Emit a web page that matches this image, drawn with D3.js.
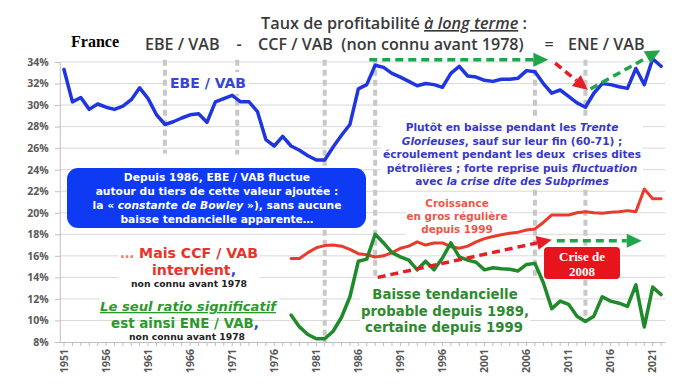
<!DOCTYPE html>
<html>
<head>
<meta charset="utf-8">
<style>
  body { margin: 0; background: #fff; font-family: "Open Sans", sans-serif; }
  svg { display: block; }
  text { white-space: pre; }
  .grid line { stroke: #d9d9d9; stroke-width: 1; }
  .axis text { fill: #595959; font-size: 10.5px; font-weight: 700; font-family: "Open Sans"; }
  .axis path, .axis line { stroke: #bfbfbf; }
  .mark { stroke: #c8c8c8; stroke-width: 4; stroke-dasharray: 6,4; }
  .serie { fill: none; stroke-linejoin: round; stroke-linecap: round; }
  .note text { font-weight: 700; font-family: "DejaVu Sans"; }
</style>
</head>
<body>
<script src="https://d3js.org/d3.v7.min.js"></script>
<script>

var years = d3.range(1951, 2023),
    partYears = d3.range(1978, 2023);

// EBE / VAB, 1951-2022
var ebeVab = [33.3, 30.3, 30.7, 29.6, 30.1, 29.8, 29.6, 29.9, 30.5, 31.6,
              30.6, 29.1, 28.2, 28.45, 28.8, 29.1, 29.2, 28.4, 30.3, 30.6,
              30.9, 30.3, 30.3, 29.4, 26.8, 26.2, 27.1, 26.2, 25.8, 25.3,
              24.9, 24.9, 26.1, 27.2, 28.2, 31.5, 31.9, 33.7, 33.5, 32.95,
              32.6, 32.2, 31.8, 32.0, 31.9, 31.65, 32.95, 33.6, 32.7, 32.6,
              32.3, 32.2, 32.4, 32.4, 32.5, 33.2, 33.1, 32.0, 31.1, 31.4,
              30.8, 30.2, 29.8, 31.1, 32.0, 31.9, 31.7, 31.55, 33.4, 31.9,
              34.3, 33.6];

// CCF / VAB, 1978-2022
var ccfVab = [15.75, 15.75, 16.3,
              16.75, 16.95, 17.0, 16.9, 16.6, 16.2, 16.1, 15.9, 16.0, 16.3,
              16.7, 16.9, 17.3, 17.0, 17.2, 17.2, 16.85, 16.7, 16.9, 17.3,
              17.6, 17.8, 17.95, 18.1, 18.2, 18.4, 18.5, 19.1, 19.8, 19.8,
              19.8, 20.0, 20.1, 20.0, 19.95, 20.05, 20.1, 20.2, 20.1, 22.2,
              21.3, 21.3];

// ENE / VAB, 1978-2022
var eneVab = [10.5, 9.4, 8.7,
              8.3, 8.3, 9.0, 10.3, 12.2, 15.5, 15.7, 18.0, 17.2, 16.3,
              15.9, 15.6, 14.7, 15.5, 14.7, 15.8, 17.2, 15.9, 15.6, 15.4,
              14.7, 14.9, 14.8, 14.75, 14.6, 15.2, 15.3, 13.5, 11.1, 11.8,
              11.5, 10.4, 9.9, 10.4, 12.2, 11.8, 11.6, 11.3, 13.3, 9.4,
              13.1, 12.4];

var yTicks = [8, 10, 12, 14, 16, 18, 20, 22, 24, 26, 28, 30, 32, 34],
    xLabels = ["1951", "1956", "1961", "1966", "1971", "1976", "1981",
               "1986", "1991", "1996", "2001", "2006", "2011", "2016", "2021"];

// grey dashed year markers (year, lower end in %)
var markYears = [1963, 1971.6, 1982, 1988, 2007, 2013],
    markLows = [25.5, 25.4, 8, 14, 14, 10];

var blue = "#1f35e0", red = "#ea3a2c", green = "#1f8a2a",
    arrowGreen = "#1fa64a", arrowRed = "#e81c24";

var svg = d3.select("body").append("svg")
    .attr("width", 684)
    .attr("height", 385);

var x = d3.scaleBand().domain(years).range([59.8, 665.3]);
function cx(yr) { return x(yr) + x.bandwidth() / 2; }
var xl = d3.scaleLinear().domain([1951, 2022]).range([cx(1951), cx(2022)]);
var y = d3.scaleLinear().domain([8, 34]).range([342, 62]);

// gridlines
svg.append("g").attr("class", "grid")
  .selectAll("line")
    .data(yTicks.slice(1))
  .enter().append("line")
    .attr("x1", x.range()[0])
    .attr("x2", x.range()[1])
    .attr("y1", function(d) { return y(d); })
    .attr("y2", function(d) { return y(d); });

// vertical markers
svg.append("g")
  .selectAll("line")
    .data(markYears)
  .enter().append("line")
    .attr("class", "mark")
    .attr("x1", function(d) { return xl(d); })
    .attr("x2", function(d) { return xl(d); })
    .attr("y1", y(34.2))
    .attr("y2", function(d, i) { return y(markLows[i]); });

// axes
svg.append("g").attr("class", "axis")
    .attr("transform", "translate(" + x.range()[0] + ",0)")
    .call(d3.axisLeft(y).tickValues(yTicks).tickSizeOuter(0).tickSize(5).tickPadding(6)
      .tickFormat(function(d) { return d + "%"; }));

svg.append("g").attr("class", "axis")
    .attr("transform", "translate(0," + y(8) + ")")
    .call(d3.axisBottom(x).tickSize(4).tickSizeOuter(0).tickFormat(""));

svg.append("g").attr("class", "axis")
  .selectAll("text")
    .data(xLabels)
  .enter().append("text")
    .attr("transform", function(d) { return "translate(" + cx(+d) + "," + (y(8) + 7) + ") rotate(-90)"; })
    .attr("dy", "0.35em")
    .attr("text-anchor", "end")
    .text(function(d) { return d; });

// text helpers
function textLine(g, tx, ty, parts, anchor) {
  var t = g.append("text")
      .attr("x", tx)
      .attr("y", ty)
      .attr("text-anchor", anchor || "middle");
  parts.forEach(function(p) {
    if (typeof p === "string") p = { t: p };
    var s = t.append("tspan").text(p.t);
    if (p.i) s.style("font-style", "italic");
    if (p.u) s.style("text-decoration", "underline");
    if (p.c) s.attr("fill", p.c);
  });
  return t;
}
// scale a group's font so that one of its lines gets the wanted width
function fit(g, t, width) {
  var w = t.node().getComputedTextLength(),
      fs = parseFloat(g.style("font-size"));
  g.style("font-size", (fs * width / w).toFixed(2) + "px");
}
function whiteBack(g, pad) {
  var b = g.node().getBBox();
  g.insert("rect", ":first-child")
      .attr("x", b.x - pad).attr("y", b.y - pad)
      .attr("width", b.width + 2 * pad).attr("height", b.height + 2 * pad)
      .attr("fill", "#fff");
}
function block(color, size) {
  return svg.append("g").attr("class", "note").attr("fill", color).style("font-size", size + "px");
}

// title
var t1 = svg.append("g").attr("fill", "#3a3a3a").style("font-size", "15px").style("font-weight", 600);
fit(t1, textLine(t1, 394, 29, ["Taux de profitabilité ", { t: "à long terme", i: 1, u: 1 }, " :"]), 266);
var t2 = svg.append("g").attr("fill", "#3a3a3a").style("font-size", "15px").style("font-weight", 600);
var ccfT = textLine(t2, 258, 50, ["CCF / VAB  (non connu avant 1978)"], "start");
textLine(t2, 145, 50, ["EBE / VAB"], "start");
textLine(t2, 239, 50, ["-"], "middle");
textLine(t2, 549, 50, ["="], "middle");
textLine(t2, 568, 50, ["ENE / VAB"], "start");
fit(t2, ccfT, 266);

svg.append("text")
    .attr("x", 71).attr("y", 47)
    .style("font-family", "Liberation Serif")
    .style("font-weight", 700)
    .style("font-size", "16px")
    .text("France");

// EBE label
var ebeLab = block("#3445d8", 14);
fit(ebeLab, textLine(ebeLab, 208, 88, ["EBE / VAB"]), 76);
whiteBack(ebeLab, 3);

// right blue comment
var cmt = block("#3838c8", 10.5);
textLine(cmt, 512, 131, ["Plutôt en baisse pendant les ", { t: "Trente", i: 1 }]);
textLine(cmt, 512, 145, [{ t: "Glorieuses", i: 1 }, ", sauf sur leur fin (60-71) ;"]);
var cmtRef = textLine(cmt, 512, 158, ["écroulement pendant les deux  crises dites"]);
textLine(cmt, 512, 172, ["pétrolières ; forte reprise puis ", { t: "fluctuation", i: 1 }]);
textLine(cmt, 512, 185, ["avec ", { t: "la crise dite des Subprimes", i: 1 }]);
fit(cmt, cmtRef, 258);
whiteBack(cmt, 2);

// red comment
var cro = block("#ee5646", 10);
textLine(cro, 457, 207, ["Croissance"]);
fit(cro, textLine(cro, 457, 220, ["en gros régulière"]), 101);
textLine(cro, 457, 233, ["depuis 1999"]);
whiteBack(cro, 1);

// left comments
var mais = block("#e8332b", 14);
fit(mais, textLine(mais, 189, 258, [{ t: "… ", c: "#f08070" }, "Mais CCF / VAB"]), 138);
textLine(mais, 194, 275, ["intervient", { t: ",", c: "#3040d0" }]);
whiteBack(mais, 2);

var nc1 = block("#222", 9);
fit(nc1, textLine(nc1, 189, 287, ["non connu avant 1978"]), 116);

var seul = block("#2a9a2a", 13);
fit(seul, textLine(seul, 188, 311, [{ t: "Le seul ratio significatif", i: 1, u: 1 }]), 176);
whiteBack(seul, 1);

var est = block("#2a9a2a", 13);
fit(est, textLine(est, 185, 328, ["est ainsi ENE / VAB", { t: ",", c: "#3040d0" }]), 148);

var nc2 = block("#222", 9);
fit(nc2, textLine(nc2, 187, 340, ["non connu avant 1978"]), 116);

var baisse = block("#2e8a30", 13);
textLine(baisse, 445, 299, ["Baisse tendancielle"]);
fit(baisse, textLine(baisse, 445, 316, ["probable depuis 1989,"]), 168);
textLine(baisse, 444, 332, ["certaine depuis 1999"]);
whiteBack(baisse, 1);

// series
var line = d3.line()
    .x(function(d) { return cx(d[0]); })
    .y(function(d) { return y(d[1]); });

svg.append("path").attr("class", "serie")
    .attr("d", line(partYears.map(function(yr, i) { return [yr, ccfVab[i]]; })))
    .attr("stroke", red).attr("stroke-width", 3);

svg.append("path").attr("class", "serie")
    .attr("d", line(partYears.map(function(yr, i) { return [yr, eneVab[i]]; })))
    .attr("stroke", green).attr("stroke-width", 3.5);

svg.append("path").attr("class", "serie")
    .attr("d", line(years.map(function(yr, i) { return [yr, ebeVab[i]]; })))
    .attr("stroke", blue).attr("stroke-width", 3.5);

// arrows, ends in (year, %)
var arrows = [
  { from: [1987.3, 34.2], to: [2008.6, 34.2], c: arrowGreen },
  { from: [2009.4, 33.9], to: [2013.3, 31.4], c: arrowRed },
  { from: [2013.6, 31.5], to: [2021.9, 35.1], c: arrowGreen },
  { from: [1988.3, 14.0], to: [2009.0, 17.5], c: arrowRed },
  { from: [2009.6, 17.4], to: [2019.7, 17.4], c: arrowGreen }
];
arrows.forEach(function(a) {
  var x1 = xl(a.from[0]), y1 = y(a.from[1]),
      x2 = xl(a.to[0]), y2 = y(a.to[1]),
      len = Math.hypot(x2 - x1, y2 - y1),
      ux = (x2 - x1) / len, uy = (y2 - y1) / len,
      hl = 15, hw = 7,
      bx = x2 - ux * hl, by = y2 - uy * hl;
  svg.append("line")
      .attr("x1", x1).attr("y1", y1).attr("x2", bx).attr("y2", by)
      .attr("stroke", a.c).attr("stroke-width", 3.5).attr("stroke-dasharray", "8,5");
  svg.append("path")
      .attr("d", "M" + x2 + "," + y2 + "L" + (bx - uy * hw) + "," + (by + ux * hw) +
                 "L" + (bx + uy * hw) + "," + (by - ux * hw) + "Z")
      .attr("fill", a.c);
});

// blue box
svg.append("rect")
    .attr("x", 67).attr("y", 168).attr("width", 299).attr("height", 60)
    .attr("rx", 11).attr("fill", "#0d3af2");
var boxTxt = block("#fff", 10);
textLine(boxTxt, 217, 181, ["Depuis 1986, EBE / VAB fluctue"]);
var boxRef = textLine(boxTxt, 217, 195, ["autour du tiers de cette valeur ajoutée :"]);
textLine(boxTxt, 217, 209, ["la « ", { t: "constante de Bowley", i: 1 }, " »), sans aucune"]);
textLine(boxTxt, 217, 223, ["baisse tendancielle apparente…"]);
fit(boxTxt, boxRef, 243);

// red box
svg.append("rect")
    .attr("x", 544).attr("y", 247).attr("width", 76).attr("height", 32)
    .attr("rx", 4).attr("fill", "#e8141c");
var crise = svg.append("g").attr("fill", "#fff")
    .style("font-family", "Liberation Serif").style("font-weight", 700).style("font-size", "13px");
textLine(crise, 582, 261, ["Crise de"]);
textLine(crise, 582, 276, ["2008"]);

</script>
</body>
</html>
